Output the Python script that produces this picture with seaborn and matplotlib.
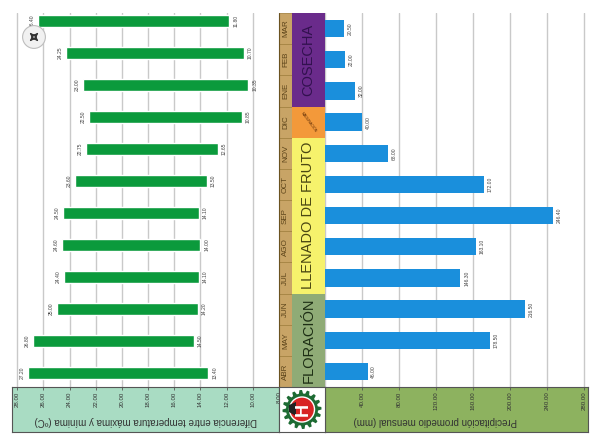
import numpy as np
import pandas as pd
import matplotlib
matplotlib.use("Agg")
import matplotlib.pyplot as plt
import matplotlib.transforms as mtransforms
from matplotlib.patches import Rectangle, Polygon, Circle
import seaborn as sns

sns.set_theme(style="white")
plt.rcParams['font.family'] = ['Liberation Sans', 'DejaVu Sans']

# ---------------- data ----------------
months = ["ABR", "MAY", "JUN", "JUL", "AGO", "SEP", "OCT", "NOV", "DIC", "ENE", "FEB", "MAR"]
precip = [46.00, 178.50, 216.50, 146.30, 163.10, 246.40, 172.00, 68.00, 40.00, 32.00, 22.00, 20.50]
t_max = [27.20, 26.80, 25.00, 24.40, 24.60, 24.50, 23.60, 22.75, 22.50, 23.00, 24.25, 26.40]
t_min = [13.40, 14.50, 14.20, 14.10, 14.00, 14.10, 13.50, 12.65, 10.85, 10.35, 10.70, 11.80]
temp_ticks = [28, 26, 24, 22, 20, 18, 16, 14, 12, 10, 8]
precip_ticks = [0, 40, 80, 120, 160, 200, 240, 280]
phases = [("FLORACIÓN", "ABR", "JUN"), ("LLENADO DE FRUTO", "JUL", "NOV"),
          ("MADURACIÓN", "DIC", "DIC"), ("COSECHA", "ENE", "MAR")]
temp_title = "Diferencia entre temperatura máxima y mínima (ºC)"
precip_title = "Precipitación promedio mensual (mm)"

df = pd.DataFrame({"mes": months, "precip": precip, "tmax": t_max, "tmin": t_min})
order = months[::-1]          # MAR on top, ABR at the bottom
pos = {m: i for i, m in enumerate(order)}

W, H = 590, 436
fig = plt.figure(figsize=(W / 100, H / 100), dpi=100)
fig.patch.set_facecolor("white")


def rect(x0, y0, x1, y1):
    return [x0 / W, 1 - y1 / H, (x1 - x0) / W, (y1 - y0) / H]


phase_style = {
    "FLORACIÓN": ("#8fab76", "#1d2e14"),
    "LLENADO DE FRUTO": ("#f6f26c", "#4a4712"),
    "MADURACIÓN": ("#f3993a", "#5a2a05"),
    "COSECHA": ("#6a2b8b", "#32114f"),
}

# ---------------- temperature panel ----------------
ax_t = fig.add_axes(rect(12, 13, 279, 387))
ax_t.set_facecolor("white")
ypos = [pos[m] for m in df["mes"]]
ax_t.barh(ypos, df["tmax"] - df["tmin"], left=df["tmin"], height=0.39,
          color="#0b9a3c", zorder=3)
ax_t.set_xlim(28.4, 8.0)
ax_t.set_ylim(11.44, -0.25)
ax_t.set_xticks(temp_ticks)
ax_t.grid(axis="x", color="#c9c9c9", lw=1.0, zorder=0)
ax_t.grid(axis="y", visible=False)
ax_t.tick_params(left=False, bottom=False, labelleft=False, labelbottom=False)
for s in ax_t.spines.values():
    s.set_visible(False)
for y, a, b in zip(ypos, df["tmax"], df["tmin"]):
    ax_t.text(a + 0.25, y, f"{a:.2f}", rotation=90, ha="right", va="center",
              fontsize=3.6, color="#444444")
    ax_t.text(b - 0.3, y, f"{b:.2f}", rotation=90, ha="left", va="center",
              fontsize=3.6, color="#444444")

# ---------------- precipitation panel ----------------
ax_p = fig.add_axes(rect(325, 13, 588, 387))
ax_p.set_facecolor("white")
sns.barplot(data=df, x="precip", y="mes", order=order, color="#1a8fdc",
            saturation=1, width=0.56, linewidth=0, ax=ax_p, zorder=3)
ax_p.set_xlim(0, 284)
ax_p.set_ylim(11.5, -0.5)
ax_p.set_xticks(precip_ticks)
ax_p.grid(axis="x", color="#c9c9c9", lw=1.0, zorder=0)
ax_p.grid(axis="y", visible=False)
ax_p.set_xlabel("")
ax_p.set_ylabel("")
ax_p.tick_params(left=False, bottom=False, labelleft=False, labelbottom=False)
for s in ax_p.spines.values():
    s.set_visible(False)
for m, v in zip(df["mes"], df["precip"]):
    ax_p.text(v + 4, pos[m], f"{v:.2f}", rotation=90, ha="left", va="center",
              fontsize=3.6, color="#444444")

# ---------------- months / phases column ----------------
ax_m = fig.add_axes(rect(279, 13, 325, 387))
ax_m.set_xlim(0, 46)
ax_m.set_ylim(11.5, -0.5)
ax_m.axis("off")
for m in months:
    p = pos[m]
    ax_m.add_patch(Rectangle((0, p - 0.5), 13, 1, facecolor="#c8a466",
                             edgecolor="#a58443", lw=0.6))
    ax_m.text(6.5, p, m, rotation=90, ha="center", va="center",
              fontsize=5.8, color="#5b4319")
for name, m0, m1 in phases:
    p0, p1 = pos[m1], pos[m0]
    fc, tc = phase_style[name]
    ax_m.add_patch(Rectangle((13, p0 - 0.5), 33, p1 - p0 + 1, facecolor=fc,
                             edgecolor="none"))
    if name == "MADURACIÓN":
        ax_m.text(29.5, p0, name, rotation=-54, ha="center", va="center",
                  fontsize=2.6, color=tc)
    else:
        ax_m.text(29.5, (p0 + p1) / 2, name, rotation=90, ha="center",
                  va="center", fontsize=10.5, color=tc)
ax_m.plot([0, 0], [-0.5, 11.5], color="#6b5220", lw=0.8)

# ---------------- bottom strips ----------------
ax_ls = fig.add_axes(rect(12, 387, 279, 432))
ax_ls.set_facecolor("#a9dcc3")
ax_ls.set_xlim(28.4, 8.0)
ax_ls.set_ylim(0, 1)
ax_ls.set_xticks(temp_ticks)
ax_ls.tick_params(axis="x", direction="in", length=2.5, width=0.6, color="#555555",
                  top=True, bottom=False, labelbottom=False)
ax_ls.tick_params(left=False, labelleft=False)
for s in ax_ls.spines.values():
    s.set_color("#555555")
    s.set_linewidth(0.8)
for v in temp_ticks:
    ax_ls.text(v, 0.9, f"{v:.2f}", rotation=90, ha="center", va="top",
               fontsize=4.4, color="#333333")
ax_ls.text(0.5, 0.24, temp_title, transform=ax_ls.transAxes, rotation=180,
           ha="center", va="center", fontsize=7, color="#333333")

ax_rs = fig.add_axes(rect(325, 387, 588, 432))
ax_rs.set_facecolor("#8db25f")
ax_rs.set_xlim(0, 284)
ax_rs.set_ylim(0, 1)
ax_rs.set_xticks(precip_ticks)
ax_rs.tick_params(axis="x", direction="in", length=2.5, width=0.6, color="#555555",
                  top=True, bottom=False, labelbottom=False)
ax_rs.tick_params(left=False, labelleft=False)
for s in ax_rs.spines.values():
    s.set_color("#555555")
    s.set_linewidth(0.8)
for v in precip_ticks:
    ax_rs.text(v, 0.9, f"{v:.2f}", rotation=90, ha="center", va="top",
               fontsize=4.4, color="#333333")
ax_rs.text(0.42, 0.24, precip_title, transform=ax_rs.transAxes, rotation=180,
           ha="center", va="center", fontsize=7, color="#333333")

# ---------------- logo ----------------
ax_l = fig.add_axes(rect(279, 387, 325, 432))
ax_l.set_xlim(0, 46)
ax_l.set_ylim(0, 45)
ax_l.set_facecolor("white")
ax_l.set_xticks([])
ax_l.set_yticks([])
for s in ax_l.spines.values():
    s.set_color("#555555")
    s.set_linewidth(0.8)
ang = np.linspace(0, 2 * np.pi, 97)[:-1]
rad = np.where((np.arange(96) // 3) % 2 == 0, 19.5, 16.0)
ax_l.add_patch(Polygon(np.c_[23 + rad * np.cos(ang), 22.5 + rad * np.sin(ang)],
                       closed=True, facecolor="#1d6b33", edgecolor="none"))
ax_l.add_patch(Circle((23, 22.5), 12.5, facecolor="#d82424", edgecolor="white", lw=1))
ax_l.text(24, 22.5, "H", rotation=90, ha="center", va="center", fontsize=13,
          fontweight="bold", color="white")
ax_l.add_patch(Polygon([[10, 20], [17, 16], [17, 30], [10, 27]], closed=True,
                       facecolor="#222222", edgecolor="none"))

# ---------------- expand icon overlay ----------------
ax_i = fig.add_axes(rect(22, 25, 46, 49))
ax_i.set_xlim(-1, 1)
ax_i.set_ylim(-1, 1)
ax_i.axis("off")
ax_i.add_patch(Circle((0, 0), 0.95, facecolor="#f1f1f1", edgecolor="#bdbdbd", lw=0.8))
for sx, sy in [(1, 1), (-1, 1), (1, -1), (-1, -1)]:
    ax_i.annotate("", xy=(0.5 * sx, 0.5 * sy), xytext=(0.12 * sx, 0.12 * sy),
                  arrowprops=dict(arrowstyle="-|>", color="#333333", lw=1.0,
                                  mutation_scale=5))

fig.savefig("out.png", dpi=100, facecolor="white")
